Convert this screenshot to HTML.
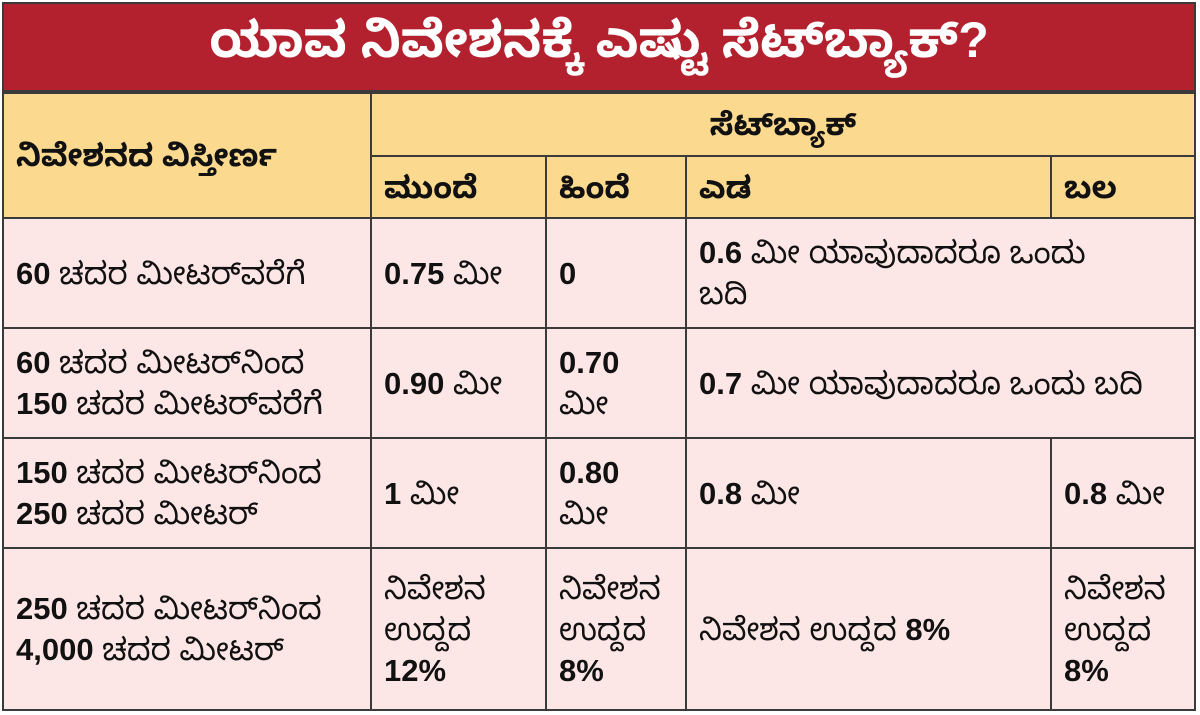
<!DOCTYPE html>
<html><head><meta charset="utf-8">
<style>
body{margin:0;width:1200px;height:715px;background:#fff;overflow:hidden;font-family:"Liberation Sans","Noto Sans Kannada","Noto Sans CJK SC",sans-serif;}
.c{position:absolute;box-sizing:border-box;border:2px solid #3a3a3a;color:#111;font-size:31px;line-height:41px;padding:6px 12px;display:flex;align-items:center;}
.y{background:#fbd98e;}
.p{background:#fde6e6;}
b{font-weight:bold;}
#title{position:absolute;left:2px;top:2px;width:1194px;height:90px;background:#b3202e;color:#fff;font-size:50px;font-weight:bold;display:flex;align-items:center;justify-content:center;border:2px solid #3a3a3a;box-sizing:border-box;}
</style></head><body>
<div id="title">ಯಾವ ನಿವೇಶನಕ್ಕೆ ಎಷ್ಟು ಸೆಟ್‌ಬ್ಯಾಕ್?</div>
<div class="c y" style="left:2px;top:92px;width:370px;height:127px;font-weight:bold">ನಿವೇಶನದ ವಿಸ್ತೀರ್ಣ</div>
<div class="c y" style="left:370px;top:92px;width:826px;height:65px;justify-content:center;font-weight:bold">ಸೆಟ್‌ಬ್ಯಾಕ್</div>
<div class="c y" style="left:370px;top:155px;width:177px;height:64px;font-weight:bold">ಮುಂದೆ</div>
<div class="c y" style="left:545px;top:155px;width:142px;height:64px;font-weight:bold">ಹಿಂದೆ</div>
<div class="c y" style="left:685px;top:155px;width:367px;height:64px;font-weight:bold">ಎಡ</div>
<div class="c y" style="left:1050px;top:155px;width:146px;height:64px;font-weight:bold">ಬಲ</div>

<div class="c p" style="left:2px;top:217px;width:370px;height:112px"><span><b>60</b> ಚದರ ಮೀಟರ್‌ವರೆಗೆ</span></div>
<div class="c p" style="left:370px;top:217px;width:177px;height:112px"><span><b>0.75</b> ಮೀ</span></div>
<div class="c p" style="left:545px;top:217px;width:142px;height:112px"><b>0</b></div>
<div class="c p" style="left:685px;top:217px;width:511px;height:112px"><span><b>0.6</b> ಮೀ ಯಾವುದಾದರೂ ಒಂದು<br>ಬದಿ</span></div>

<div class="c p" style="left:2px;top:327px;width:370px;height:112px"><span><b>60</b> ಚದರ ಮೀಟರ್‌ನಿಂದ<br><b>150</b> ಚದರ ಮೀಟರ್‌ವರೆಗೆ</span></div>
<div class="c p" style="left:370px;top:327px;width:177px;height:112px"><span><b>0.90</b> ಮೀ</span></div>
<div class="c p" style="left:545px;top:327px;width:142px;height:112px"><span><b>0.70</b><br>ಮೀ</span></div>
<div class="c p" style="left:685px;top:327px;width:511px;height:112px"><span><b>0.7</b> ಮೀ ಯಾವುದಾದರೂ ಒಂದು ಬದಿ</span></div>

<div class="c p" style="left:2px;top:437px;width:370px;height:112px"><span><b>150</b> ಚದರ ಮೀಟರ್‌ನಿಂದ<br><b>250</b> ಚದರ ಮೀಟರ್</span></div>
<div class="c p" style="left:370px;top:437px;width:177px;height:112px"><span><b>1</b> ಮೀ</span></div>
<div class="c p" style="left:545px;top:437px;width:142px;height:112px"><span><b>0.80</b><br>ಮೀ</span></div>
<div class="c p" style="left:685px;top:437px;width:367px;height:112px"><span><b>0.8</b> ಮೀ</span></div>
<div class="c p" style="left:1050px;top:437px;width:146px;height:112px"><span><b>0.8</b> ಮೀ</span></div>

<div class="c p" style="left:2px;top:547px;width:370px;height:164px"><span><b>250</b> ಚದರ ಮೀಟರ್‌ನಿಂದ<br><b>4,000</b> ಚದರ ಮೀಟರ್</span></div>
<div class="c p" style="left:370px;top:547px;width:177px;height:164px"><span>ನಿವೇಶನ<br>ಉದ್ದದ<br><b>12%</b></span></div>
<div class="c p" style="left:545px;top:547px;width:142px;height:164px"><span>ನಿವೇಶನ<br>ಉದ್ದದ<br><b>8%</b></span></div>
<div class="c p" style="left:685px;top:547px;width:367px;height:164px"><span>ನಿವೇಶನ ಉದ್ದದ <b>8%</b></span></div>
<div class="c p" style="left:1050px;top:547px;width:146px;height:164px"><span>ನಿವೇಶನ<br>ಉದ್ದದ<br><b>8%</b></span></div>
</body></html>
